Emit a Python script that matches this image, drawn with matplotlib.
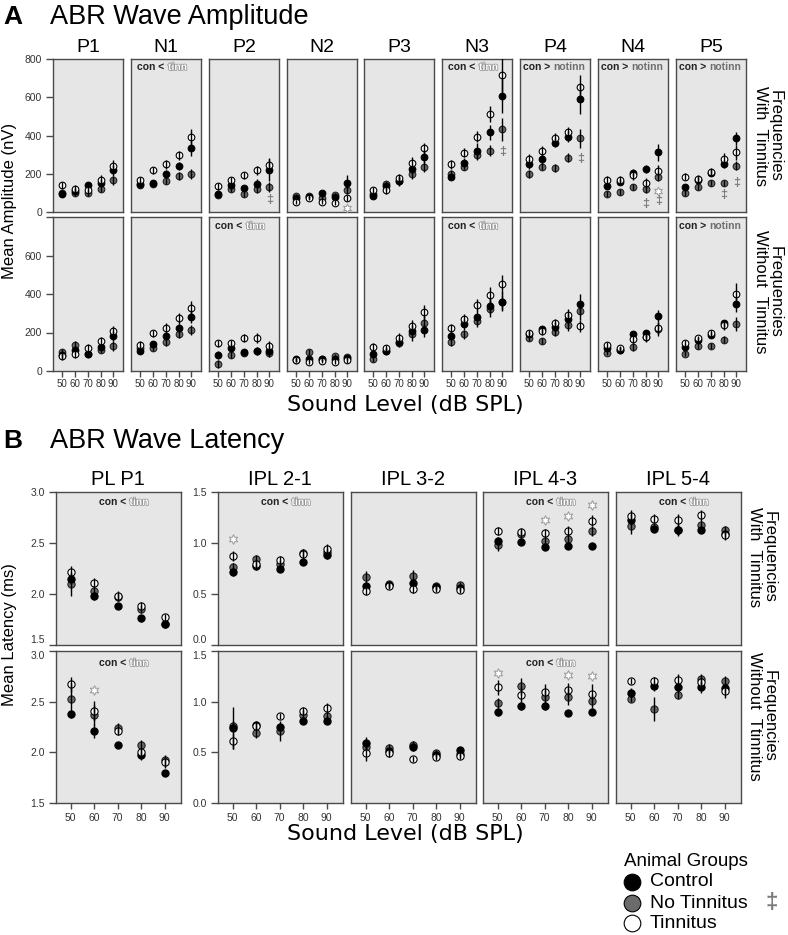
import numpy as np
import matplotlib.pyplot as plt
from matplotlib import patheffects

# ---------------- data ----------------
levels = [50, 60, 70, 80, 90]

amp_waves = ['P1', 'N1', 'P2', 'N2', 'P3', 'N3', 'P4', 'N4', 'P5']
lat_waves = ['PL P1', 'IPL 2-1', 'IPL 3-2', 'IPL 4-3', 'IPL 5-4']

# Amplitud (nV) - frecuencias con tinnitus
amp_with_con = {
    'P1': [92, 108, 139, 151, 217], 'N1': [148, 151, 197, 240, 334],
    'P2': [96, 139, 125, 148, 221], 'N2': [72, 76, 98, 80, 153],
    'P3': [82, 135, 162, 223, 289], 'N3': [185, 258, 321, 417, 608],
    'P4': [249, 276, 363, 394, 591], 'N4': [138, 159, 206, 225, 312],
    'P5': [132, 167, 206, 251, 385],
}
amp_with_notinn = {
    'P1': [100, 100, 100, 122, 165], 'N1': [143, 148, 160, 188, 200],
    'P2': [90, 122, 96, 120, 130], 'N2': [84, 84, 72, 89, 115],
    'P3': [92, 145, 162, 199, 237], 'N3': [199, 237, 298, 321, 432],
    'P4': [197, 237, 229, 284, 385], 'N4': [95, 106, 129, 119, 185],
    'P5': [101, 132, 150, 150, 242],
}
amp_with_tinn = {
    'P1': [139, 122, 113, 169, 243], 'N1': [165, 217, 249, 296, 391],
    'P2': [134, 165, 191, 217, 247], 'N2': [54, 72, 54, 49, 72],
    'P3': [113, 115, 176, 255, 333], 'N3': [249, 310, 394, 513, 716],
    'P4': [276, 321, 385, 417, 655], 'N4': [167, 167, 194, 153, 216],
    'P5': [185, 173, 211, 277, 312],
}
amp_with_con_err = {
    'P1': [15, 15, 18, 20, 30], 'N1': [15, 15, 25, 20, 40],
    'P2': [15, 20, 15, 25, 60], 'N2': [10, 10, 12, 12, 40],
    'P3': [15, 20, 25, 25, 35], 'N3': [20, 25, 40, 40, 90],
    'P4': [25, 25, 25, 30, 80], 'N4': [15, 15, 20, 20, 45],
    'P5': [15, 20, 20, 20, 35],
}
amp_with_notinn_err = {
    'P1': [15, 15, 15, 20, 25], 'N1': [15, 15, 15, 20, 25],
    'P2': [15, 15, 15, 20, 25], 'N2': [10, 10, 12, 12, 20],
    'P3': [15, 15, 20, 25, 30], 'N3': [20, 20, 25, 30, 60],
    'P4': [20, 20, 20, 25, 50], 'N4': [15, 15, 15, 20, 25],
    'P5': [15, 15, 15, 15, 25],
}
amp_with_tinn_err = {
    'P1': [20, 20, 20, 25, 30], 'N1': [20, 20, 25, 25, 45],
    'P2': [20, 20, 20, 25, 30], 'N2': [10, 10, 10, 12, 15],
    'P3': [20, 20, 25, 30, 30], 'N3': [25, 25, 30, 40, 90],
    'P4': [25, 25, 30, 30, 60], 'N4': [20, 20, 25, 25, 30],
    'P5': [20, 20, 20, 30, 40],
}

# Amplitud (nV) - frecuencias sin tinnitus
amp_without_con = {
    'P1': [85, 111, 90, 125, 183], 'N1': [104, 139, 181, 221, 282],
    'P2': [82, 120, 99, 104, 104], 'N2': [61, 64, 61, 64, 68],
    'P3': [90, 104, 151, 207, 212], 'N3': [183, 242, 282, 337, 360],
    'P4': [191, 216, 230, 268, 348], 'N4': [117, 111, 191, 195, 287],
    'P5': [125, 160, 186, 247, 348],
}
amp_without_notinn = {
    'P1': [99, 134, 87, 111, 130], 'N1': [117, 117, 151, 191, 212],
    'P2': [38, 82, 94, 104, 94], 'N2': [56, 99, 64, 77, 73],
    'P3': [61, 104, 146, 190, 247], 'N3': [151, 190, 261, 322, 357],
    'P4': [169, 155, 203, 238, 311], 'N4': [94, 108, 125, 177, 217],
    'P5': [90, 129, 130, 163, 243],
}
amp_without_tinn = {
    'P1': [78, 90, 122, 155, 207], 'N1': [134, 195, 224, 273, 325],
    'P2': [143, 143, 172, 172, 129], 'N2': [56, 47, 50, 47, 56],
    'P3': [125, 117, 172, 233, 304], 'N3': [221, 268, 343, 395, 450],
    'P4': [195, 209, 247, 290, 233], 'N4': [134, 117, 165, 177, 224],
    'P5': [148, 169, 195, 238, 398],
}
amp_without_con_err = {
    'P1': [25, 20, 15, 15, 25], 'N1': [15, 15, 20, 25, 35],
    'P2': [20, 20, 15, 20, 25], 'N2': [10, 10, 10, 12, 12],
    'P3': [20, 15, 20, 30, 35], 'N3': [20, 30, 35, 40, 50],
    'P4': [15, 20, 25, 35, 50], 'N4': [15, 12, 15, 20, 30],
    'P5': [15, 15, 15, 20, 40],
}
amp_without_notinn_err = {
    'P1': [15, 20, 15, 15, 25], 'N1': [15, 15, 20, 20, 25],
    'P2': [20, 15, 15, 15, 20], 'N2': [10, 15, 10, 12, 12],
    'P3': [15, 15, 20, 35, 40], 'N3': [20, 25, 30, 40, 40],
    'P4': [15, 15, 20, 30, 45], 'N4': [12, 15, 20, 20, 35],
    'P5': [12, 15, 15, 20, 35],
}
amp_without_tinn_err = {
    'P1': [20, 20, 20, 20, 25], 'N1': [20, 20, 25, 30, 40],
    'P2': [20, 20, 20, 25, 25], 'N2': [10, 10, 10, 10, 12],
    'P3': [20, 20, 25, 30, 40], 'N3': [25, 30, 30, 40, 50],
    'P4': [20, 20, 25, 30, 30], 'N4': [15, 15, 20, 25, 30],
    'P5': [15, 15, 20, 25, 60],
}

# Marcas de significancia (nivel, valor)
amp_with_dagger = {'P2': [(90, 63)], 'N3': [(90, 315)], 'P4': [(90, 276)],
                   'N4': [(80, 42), (90, 59)], 'P5': [(80, 89), (90, 150)]}
amp_with_star = {'N2': [(90, 19)], 'N4': [(90, 111)]}
amp_with_sig = {'N1': 'tinn', 'N3': 'tinn', 'P4': 'notinn', 'N4': 'notinn', 'P5': 'notinn'}
amp_without_sig = {'P2': 'tinn', 'N3': 'tinn', 'P5': 'notinn'}

# Latencia (ms) - frecuencias con tinnitus
lat_with_con = {
    'PL P1': [2.15, 1.98, 1.88, 1.76, 1.71], 'IPL 2-1': [0.72, 0.77, 0.75, 0.81, 0.88],
    'IPL 3-2': [0.58, 0.59, 0.61, 0.57, 0.56], 'IPL 4-3': [1.02, 1.01, 0.96, 0.97, 0.97],
    'IPL 5-4': [1.23, 1.14, 1.13, 1.13, 1.09],
}
lat_with_notinn = {
    'PL P1': [2.10, 2.03, 1.97, 1.85, 1.71], 'IPL 2-1': [0.76, 0.84, 0.79, 0.90, 0.91],
    'IPL 3-2': [0.67, 0.60, 0.68, 0.58, 0.59], 'IPL 4-3': [0.98, 1.09, 1.02, 1.04, 1.12],
    'IPL 5-4': [1.17, 1.16, 1.13, 1.18, 1.13],
}
lat_with_tinn = {
    'PL P1': [2.22, 2.11, 1.98, 1.88, 1.77], 'IPL 2-1': [0.87, 0.79, 0.83, 0.89, 0.94],
    'IPL 3-2': [0.53, 0.58, 0.55, 0.55, 0.54], 'IPL 4-3': [1.12, 1.11, 1.10, 1.12, 1.22],
    'IPL 5-4': [1.26, 1.24, 1.23, 1.27, 1.08],
}
lat_with_con_err = {
    'PL P1': [0.05, 0.04, 0.03, 0.03, 0.03], 'IPL 2-1': [0.04, 0.03, 0.03, 0.03, 0.04],
    'IPL 3-2': [0.03, 0.03, 0.03, 0.03, 0.03], 'IPL 4-3': [0.04, 0.03, 0.03, 0.03, 0.03],
    'IPL 5-4': [0.05, 0.03, 0.05, 0.03, 0.03],
}
lat_with_notinn_err = {
    'PL P1': [0.12, 0.04, 0.04, 0.04, 0.03], 'IPL 2-1': [0.04, 0.04, 0.04, 0.04, 0.04],
    'IPL 3-2': [0.06, 0.03, 0.06, 0.03, 0.03], 'IPL 4-3': [0.06, 0.04, 0.04, 0.05, 0.05],
    'IPL 5-4': [0.08, 0.04, 0.06, 0.04, 0.04],
}
lat_with_tinn_err = {
    'PL P1': [0.05, 0.05, 0.05, 0.04, 0.03], 'IPL 2-1': [0.05, 0.04, 0.04, 0.05, 0.05],
    'IPL 3-2': [0.04, 0.03, 0.04, 0.03, 0.03], 'IPL 4-3': [0.04, 0.04, 0.04, 0.05, 0.05],
    'IPL 5-4': [0.06, 0.04, 0.05, 0.05, 0.05],
}

# Latencia (ms) - frecuencias sin tinnitus
lat_without_con = {
    'PL P1': [2.38, 2.21, 2.07, 1.97, 1.80], 'IPL 2-1': [0.74, 0.77, 0.75, 0.81, 0.81],
    'IPL 3-2': [0.59, 0.51, 0.55, 0.47, 0.52], 'IPL 4-3': [0.90, 0.96, 0.96, 0.89, 0.90],
    'IPL 5-4': [1.09, 1.15, 1.14, 1.14, 1.13],
}
lat_without_notinn = {
    'PL P1': [2.53, 2.37, 2.24, 2.07, 1.92], 'IPL 2-1': [0.76, 0.69, 0.71, 0.87, 0.86],
    'IPL 3-2': [0.55, 0.54, 0.57, 0.49, 0.48], 'IPL 4-3': [0.99, 1.15, 1.05, 1.05, 1.01],
    'IPL 5-4': [1.03, 0.93, 1.07, 1.22, 1.20],
}
lat_without_tinn = {
    'PL P1': [2.67, 2.41, 2.21, 2.00, 1.90], 'IPL 2-1': [0.61, 0.76, 0.86, 0.91, 0.94],
    'IPL 3-2': [0.49, 0.49, 0.43, 0.45, 0.46], 'IPL 4-3': [1.14, 1.07, 1.10, 1.12, 1.08],
    'IPL 5-4': [1.20, 1.20, 1.21, 1.19, 1.11],
}
lat_without_con_err = {
    'PL P1': [0.04, 0.07, 0.02, 0.05, 0.03], 'IPL 2-1': [0.21, 0.04, 0.04, 0.03, 0.03],
    'IPL 3-2': [0.06, 0.03, 0.04, 0.03, 0.03], 'IPL 4-3': [0.04, 0.04, 0.04, 0.03, 0.03],
    'IPL 5-4': [0.04, 0.04, 0.05, 0.05, 0.04],
}
lat_without_notinn_err = {
    'PL P1': [0.15, 0.10, 0.05, 0.05, 0.05], 'IPL 2-1': [0.05, 0.05, 0.10, 0.05, 0.05],
    'IPL 3-2': [0.04, 0.04, 0.04, 0.03, 0.03], 'IPL 4-3': [0.05, 0.08, 0.07, 0.08, 0.07],
    'IPL 5-4': [0.03, 0.12, 0.04, 0.05, 0.05],
}
lat_without_tinn_err = {
    'PL P1': [0.07, 0.10, 0.04, 0.04, 0.05], 'IPL 2-1': [0.08, 0.04, 0.03, 0.04, 0.05],
    'IPL 3-2': [0.08, 0.04, 0.03, 0.03, 0.03], 'IPL 4-3': [0.07, 0.07, 0.07, 0.06, 0.09],
    'IPL 5-4': [0.03, 0.04, 0.06, 0.05, 0.07],
}

lat_with_star = {'IPL 2-1': [(50, 1.04)], 'IPL 4-3': [(70, 1.23), (80, 1.26), (90, 1.37)]}
lat_without_star = {'PL P1': [(60, 2.62)], 'IPL 4-3': [(50, 1.28), (80, 1.26), (90, 1.25)]}
lat_with_sig = {'PL P1': 'tinn', 'IPL 2-1': 'tinn', 'IPL 4-3': 'tinn', 'IPL 5-4': 'tinn'}
lat_without_sig = {'PL P1': 'tinn', 'IPL 4-3': 'tinn'}

legend_labels = ['Control', 'No Tinnitus', 'Tinnitus']

# ---------------- estilo ----------------
W, H = 788, 935
plt.rcParams['font.family'] = ['Liberation Sans', 'DejaVu Sans']

PANEL_BG = '#e6e6e6'
EDGE = '#4a4a4a'
C_CON, C_NOT, C_TIN = 'black', '#6b6b6b', 'white'
SIG_GRAY = '#8a8a8a'

fig = plt.figure(figsize=(W / 100, H / 100), dpi=100)


def fx(px):
    return px / W


def fy(py):
    return 1 - py / H


def panel(left, top, width, height):
    ax = fig.add_axes([fx(left), fy(top + height), width / W, height / H])
    ax.set_facecolor(PANEL_BG)
    for s in ax.spines.values():
        s.set_color(EDGE)
        s.set_linewidth(1.0)
    ax.tick_params(left=False, bottom=False, labelleft=False, labelbottom=False,
                   color=EDGE, width=1.0, labelcolor='#333333')
    return ax


def draw_groups(ax, con, notinn, tinn, con_e, notinn_e, tinn_e, ms):
    x = np.array(levels)
    ax.plot(x, notinn, 'o', ms=ms, mfc=C_NOT, mec='#222222', mew=0.8, zorder=3)
    ax.plot(x, con, 'o', ms=ms, mfc=C_CON, mec='black', mew=0.8, zorder=4)
    ax.plot(x, tinn, 'o', ms=ms, mfc=C_TIN, mec='black', mew=0.8, zorder=5)
    for vals, errs in [(notinn, notinn_e), (con, con_e), (tinn, tinn_e)]:
        v = np.array(vals)
        e = np.array(errs)
        ax.vlines(x, v - e, v + e, color='black', lw=1.0, zorder=6)


def sig_label(ax, x, y, other, ha='left'):
    sym = '<' if other == 'tinn' else '>'
    t1 = ax.text(x, y, 'con ' + sym, transform=ax.transAxes, fontsize=7.5,
                 fontweight='bold', ha=ha, va='center', color='#222222')
    if other == 'tinn':
        ax.annotate('tinn', xy=(1, 0), xycoords=t1, xytext=(2.5, 0),
                    textcoords='offset points', ha='left', va='bottom',
                    fontsize=7.5, fontweight='bold', color='white',
                    path_effects=[patheffects.withStroke(linewidth=1.0, foreground=SIG_GRAY)])
    else:
        ax.annotate('notinn', xy=(1, 0), xycoords=t1, xytext=(2.5, 0),
                    textcoords='offset points', ha='left', va='bottom',
                    fontsize=7.5, fontweight='bold', color='#6e6e6e')


def draw_daggers(ax, pts):
    for lv, val in pts:
        ax.text(lv, val, '\u2021', ha='center', va='center', fontsize=9,
                fontweight='bold', color='#7a7a7a', zorder=7)


def draw_stars(ax, pts, ms):
    for lv, val in pts:
        ax.plot(lv, val, marker=(6, 1, 0), ms=ms, mfc='white', mec='#9a9a9a',
                mew=0.7, zorder=7)


# ---------------- A: amplitud ----------------
fig.text(fx(3), fy(24), 'A', fontsize=19, fontweight='bold', va='baseline')
fig.text(fx(50), fy(24), 'ABR Wave Amplitude', fontsize=19.5, va='baseline')

amp_left = [53, 131, 209, 287, 364, 442, 520, 598, 676]
amp_rows = [(59, 153), (217, 154)]

for i, w in enumerate(amp_waves):
    l = amp_left[i]
    fig.text(fx(l + 35), fy(52), w, fontsize=14, ha='center', va='baseline')
    for r, (top, h) in enumerate(amp_rows):
        ax = panel(l, top, 70, h)
        ax.set_xlim(43, 97.5)
        ax.set_ylim(0, 800)
        if r == 0:
            draw_groups(ax, amp_with_con[w], amp_with_notinn[w], amp_with_tinn[w],
                        amp_with_con_err[w], amp_with_notinn_err[w], amp_with_tinn_err[w], 4.8)
            draw_daggers(ax, amp_with_dagger.get(w, []))
            draw_stars(ax, amp_with_star.get(w, []), 6.5)
            if w in amp_with_sig:
                x0 = 0.09 if amp_with_sig[w] == 'tinn' else 0.04
                sig_label(ax, x0, 1 - 8 / 153, amp_with_sig[w])
        else:
            draw_groups(ax, amp_without_con[w], amp_without_notinn[w], amp_without_tinn[w],
                        amp_without_con_err[w], amp_without_notinn_err[w],
                        amp_without_tinn_err[w], 4.8)
            if w in amp_without_sig:
                x0 = 0.09 if amp_without_sig[w] == 'tinn' else 0.04
                sig_label(ax, x0, 1 - 9 / 154, amp_without_sig[w])
            ax.set_xticks(levels)
            ax.set_xticklabels([str(v) for v in levels])
            ax.tick_params(axis='x', bottom=True, labelbottom=True, length=4,
                           labelsize=7, pad=2)
        ax.set_yticks([0, 200, 400, 600, 800])
        if i == 0:
            ax.tick_params(axis='y', left=True, labelleft=True, length=5,
                           labelsize=7.5, pad=3)
            if r == 1:
                ax.set_yticklabels(['0', '200', '400', '600', ''])

fig.text(fx(10), fy(201), 'Mean Amplitude (nV)', rotation=90, fontsize=12,
         ha='center', va='center')
fig.text(fx(405), fy(411), 'Sound Level (dB SPL)', family='DejaVu Sans',
         fontsize=16, ha='center', va='baseline')
fig.text(fx(768), fy(136), 'Frequencies\nWith  Tinnitus', rotation=270,
         fontsize=12, ha='center', va='center', multialignment='center', linespacing=1.0)
fig.text(fx(768), fy(292), 'Frequencies\nWithout  Tinnitus', rotation=270,
         fontsize=12, ha='center', va='center', multialignment='center', linespacing=1.0)

# ---------------- B: latencia ----------------
fig.text(fx(3), fy(448), 'B', fontsize=19, fontweight='bold', va='baseline')
fig.text(fx(50), fy(448), 'ABR Wave Latency', fontsize=19.5, va='baseline')

lat_left = [56, 218, 351, 483, 616]
lat_rows = [(492, 153), (651, 152)]

for i, w in enumerate(lat_waves):
    l = lat_left[i]
    fig.text(fx(l + 62), fy(485), w, fontsize=14.5, ha='center', va='baseline')
    for r, (top, h) in enumerate(lat_rows):
        ax = panel(l, top, 125, h)
        ax.set_xlim(43.7, 97)
        if i == 0:
            ax.set_ylim(1.5, 3.0)
            ax.set_yticks([1.5, 2.0, 2.5, 3.0])
        else:
            ax.set_ylim(0, 1.5)
            ax.set_yticks([0.0, 0.5, 1.0, 1.5])
        ax.yaxis.set_major_formatter(plt.FormatStrFormatter('%.1f'))
        if r == 0:
            draw_groups(ax, lat_with_con[w], lat_with_notinn[w], lat_with_tinn[w],
                        lat_with_con_err[w], lat_with_notinn_err[w], lat_with_tinn_err[w], 5.2)
            draw_stars(ax, lat_with_star.get(w, []), 7)
            if w in lat_with_sig:
                sig_label(ax, 0.56, 1 - 10 / 153, lat_with_sig[w], ha='right')
        else:
            draw_groups(ax, lat_without_con[w], lat_without_notinn[w], lat_without_tinn[w],
                        lat_without_con_err[w], lat_without_notinn_err[w],
                        lat_without_tinn_err[w], 5.2)
            draw_stars(ax, lat_without_star.get(w, []), 7)
            if w in lat_without_sig:
                sig_label(ax, 0.56, 1 - 12 / 152, lat_without_sig[w], ha='right')
            ax.set_xticks(levels)
            ax.set_xticklabels([str(v) for v in levels])
            ax.tick_params(axis='x', bottom=True, labelbottom=True, length=4.5,
                           labelsize=7.5, pad=3)
        if i <= 1:
            ax.tick_params(axis='y', left=True, labelleft=True, length=5,
                           labelsize=7.5, pad=3)
            # separar las etiquetas que se juntan entre filas
            labs = ax.get_yticklabels()
            if r == 0:
                labs[0].set_verticalalignment('bottom')
            else:
                labs[-1].set_verticalalignment('top')

fig.text(fx(10), fy(635), 'Mean Latency (ms)', rotation=90, fontsize=12,
         ha='center', va='center')
fig.text(fx(405), fy(840), 'Sound Level (dB SPL)', family='DejaVu Sans',
         fontsize=16, ha='center', va='baseline')
fig.text(fx(762), fy(557), 'Frequencies\nWith  Tinnitus', rotation=270,
         fontsize=12, ha='center', va='center', multialignment='center', linespacing=1.0)
fig.text(fx(762), fy(716), 'Frequencies\nWithout  Ttinnitus', rotation=270,
         fontsize=12, ha='center', va='center', multialignment='center', linespacing=1.0)

# ---------------- leyenda ----------------
lg = fig.add_axes([fx(615), 0, 173 / W, 90 / H])
lg.set_xlim(615, 788)
lg.set_ylim(935, 845)
lg.axis('off')
lg.text(624, 866, 'Animal Groups', fontsize=13.5, va='baseline', ha='left')
leg_y = [882, 903, 923]
leg_fill = [C_CON, C_NOT, C_TIN]
for yy, lab, fc in zip(leg_y, legend_labels, leg_fill):
    lg.plot(632, yy, 'o', ms=12, mfc=fc, mec='black', mew=0.8, clip_on=False)
    lg.text(650, yy, lab, fontsize=14, va='center', ha='left')
lg.text(772, leg_y[1], '\u2021', fontsize=16, fontweight='bold', color='#7a7a7a',
        va='center', ha='center')

fig.savefig('out.png', dpi=100)
